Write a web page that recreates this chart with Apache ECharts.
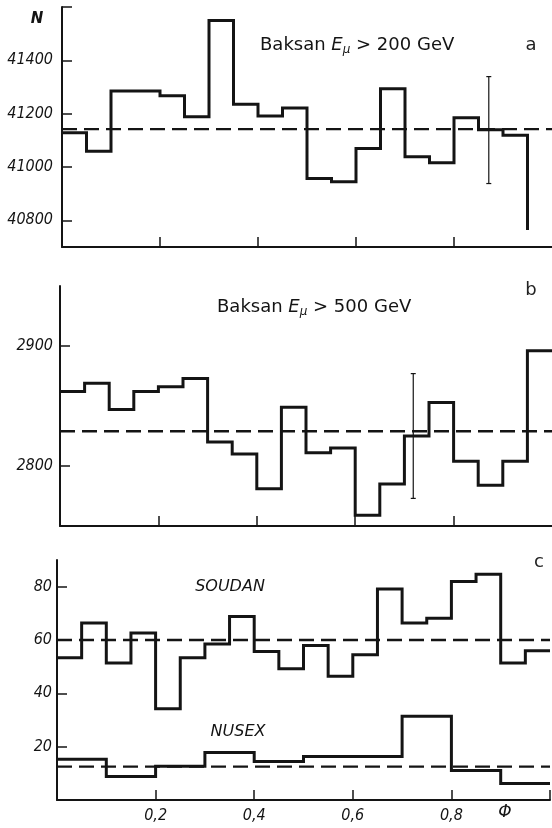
<!DOCTYPE html>
<html>
<head>
<meta charset="utf-8">
<script src="https://cdn.jsdelivr.net/npm/echarts@6/dist/echarts.min.js"></script>
<style>
  html, body { margin: 0; padding: 0; background: #fff; }
  #chart { width: 552px; height: 828px; }
</style>
</head>
<body>
<div id="chart"></div>
<script>
// ---- data ----
const binStarts20 = [0, 0.05, 0.1, 0.15, 0.2, 0.25, 0.3, 0.35, 0.4, 0.45, 0.5, 0.55, 0.6, 0.65, 0.7, 0.75, 0.8, 0.85, 0.9, 0.95];
const binStarts10 = [0, 0.1, 0.2, 0.3, 0.4, 0.5, 0.6, 0.7, 0.8, 0.9];
const binWidth20 = 0.05;
const binWidth10 = 0.1;

// panel a: Baksan E > 200 GeV (19 drawn bins, then a drop)
const baksan200 = [41128, 41059, 41285, 41285, 41267, 41188, 41549, 41235, 41191, 41221,
                   40957, 40945, 41069, 41293, 41038, 41016, 41185, 41140, 41119];
const baksan200Drop = 40764;
const baksan200Mean = 41142;
const baksan200Err = [0.871, 40938, 41339];

// panel b: Baksan E > 500 GeV
const baksan500 = [2862, 2869, 2847, 2862, 2866, 2873, 2820, 2810, 2781, 2849,
                   2811, 2815, 2759, 2785, 2825, 2853, 2804, 2784, 2804, 2896];
const baksan500Mean = 2829;
const baksan500Err = [0.718, 2773, 2877];

// panel c: SOUDAN and NUSEX
const soudan = [53.3, 66.4, 51.4, 62.6, 34.2, 53.3, 58.5, 68.8, 55.7, 49.2,
                57.9, 46.4, 54.5, 79.1, 66.4, 68.2, 81.9, 84.7, 51.4, 56.0];
const soudanMean = 60;
const nusex = [15.3, 8.8, 12.7, 17.8, 14.4, 16.3, 16.3, 31.4, 11.1, 6.2];
const nusexMean = 12.5;

// ticks
const yTicksA = [40800, 41000, 41200, 41400];
const yTicksAExtra = [41600];
const yTicksB = [2800, 2900];
const yTicksC = [20, 40, 60, 80];
const xTicks = [0.2, 0.4, 0.6, 0.8];
const xTicksC = [0.2, 0.4, 0.6, 0.8, 1.0];

// ---- helpers ----
function histPoints(starts, vals, width, drop) {
  const pts = starts.slice(0, vals.length).map((s, i) => [s, vals[i]]);
  const last = starts[vals.length - 1] + width;
  pts.push([last, vals[vals.length - 1]]);
  if (drop !== undefined) pts.push([last, drop]);
  return pts;
}

const INK = '#141414';
const labelFont = {
  color: INK, fontStyle: 'italic', fontFamily: 'DejaVu Sans Condensed, DejaVu Sans', fontSize: 16
};

function xAxisDef(gridIndex, showLabels, tickVals) {
  return {
    type: 'value', gridIndex, min: 0, max: 1,
    axisLine: { show: true, onZero: false, lineStyle: { color: INK, width: 2 } },
    axisTick: { show: true, inside: true, length: 10, customValues: tickVals, lineStyle: { color: INK, width: 1.5 } },
    axisLabel: Object.assign({ show: showLabels, margin: 8, customValues: xTicks,
      formatter: v => String(v).replace('.', ',') }, labelFont),
    splitLine: { show: false }
  };
}
function yAxisDef(gridIndex, min, max, ticks, extraTicks, margin) {
  return {
    type: 'value', gridIndex, min, max,
    axisLine: { show: true, onZero: false, lineStyle: { color: INK, width: 2 } },
    axisTick: { show: true, inside: true, length: 10, customValues: ticks.concat(extraTicks), lineStyle: { color: INK, width: 1.5 } },
    axisLabel: Object.assign({ show: true, margin, customValues: ticks, formatter: v => String(v) }, labelFont),
    splitLine: { show: false }
  };
}
function histSeries(idx, data) {
  return {
    type: 'line', xAxisIndex: idx, yAxisIndex: idx, step: 'end', data,
    symbol: 'none', silent: true, animation: false,
    lineStyle: { color: INK, width: 3, join: 'miter' }
  };
}
function meanSeries(idx, mean) {
  return {
    type: 'line', xAxisIndex: idx, yAxisIndex: idx, data: [[0, mean], [1, mean]],
    symbol: 'none', silent: true, animation: false,
    lineStyle: { color: INK, width: 2.4, type: [15, 7] }
  };
}
function errSeries(idx, err) {
  return {
    type: 'custom', xAxisIndex: idx, yAxisIndex: idx, data: [err], silent: true, animation: false,
    renderItem: (params, api) => {
      const x = api.value(0), lo = api.value(1), hi = api.value(2);
      const t = api.coord([x, hi]), b = api.coord([x, lo]);
      const st = { stroke: INK, lineWidth: 1.2 };
      return { type: 'group', children: [
        { type: 'line', shape: { x1: t[0], y1: t[1], x2: b[0], y2: b[1] }, style: st },
        { type: 'line', shape: { x1: t[0] - 2.5, y1: t[1], x2: t[0] + 2.5, y2: t[1] }, style: st },
        { type: 'line', shape: { x1: b[0] - 2.5, y1: b[1], x2: b[0] + 2.5, y2: b[1] }, style: st }
      ]};
    }
  };
}

const titleRich = {
  n: { fontFamily: 'DejaVu Sans', fontSize: 18, color: '#222' },
  e: { fontFamily: 'DejaVu Sans', fontSize: 18, fontStyle: 'italic', color: '#222' },
  s: { fontFamily: 'DejaVu Sans', fontSize: 12, fontStyle: 'italic', color: '#222', padding: [9, 0, 0, 0] }
};
function textEl(x, y, text, style) {
  return { type: 'text', x, y, silent: true, style: Object.assign({ text, fill: INK, verticalAlign: 'middle' }, style) };
}

const chart = echarts.init(document.getElementById('chart'), null, { renderer: 'canvas' });
chart.setOption({
  backgroundColor: '#fff',
  animation: false,
  grid: [
    { left: 62, right: 0, top: 7, bottom: 581, containLabel: false, outerBoundsMode: 'none' },
    { left: 60, right: 0, top: 286, bottom: 302, containLabel: false, outerBoundsMode: 'none' },
    { left: 57, right: 2, top: 560, bottom: 28, containLabel: false, outerBoundsMode: 'none' }
  ],
  xAxis: [
    xAxisDef(0, false, xTicks),
    xAxisDef(1, false, xTicks),
    xAxisDef(2, true, xTicksC)
  ],
  yAxis: [
    yAxisDef(0, 40700, 41600, yTicksA, yTicksAExtra, 9),
    yAxisDef(1, 2750, 2950, yTicksB, [], 7),
    yAxisDef(2, 0, 90, yTicksC, [], 5)
  ],
  series: [
    histSeries(0, histPoints(binStarts20, baksan200, binWidth20, baksan200Drop)),
    meanSeries(0, baksan200Mean),
    errSeries(0, baksan200Err),
    histSeries(1, histPoints(binStarts20, baksan500, binWidth20)),
    meanSeries(1, baksan500Mean),
    errSeries(1, baksan500Err),
    histSeries(2, histPoints(binStarts20, soudan, binWidth20)),
    meanSeries(2, soudanMean),
    histSeries(2, histPoints(binStarts10, nusex, binWidth10)),
    meanSeries(2, nusexMean)
  ],
  graphic: [
    textEl(37, 19, 'N', { fontFamily: 'DejaVu Sans', fontSize: 15, fontWeight: 'bold', fontStyle: 'italic', align: 'center' }),
    textEl(260, 45, '{n|Baksan }{e|E}{s|μ}{n| > 200 GeV}', { rich: titleRich, align: 'left' }),
    textEl(531, 45, 'a', { fontFamily: 'DejaVu Sans', fontSize: 18, fill: '#222', align: 'center' }),
    textEl(217, 307, '{n|Baksan }{e|E}{s|μ}{n| > 500 GeV}', { rich: titleRich, align: 'left' }),
    textEl(531, 290, 'b', { fontFamily: 'DejaVu Sans', fontSize: 18, fill: '#222', align: 'center' }),
    textEl(539, 562, 'c', { fontFamily: 'DejaVu Sans', fontSize: 18, fill: '#222', align: 'center' }),
    textEl(230, 587, 'SOUDAN', { fontFamily: 'DejaVu Sans', fontSize: 16, fontStyle: 'italic', align: 'center' }),
    textEl(238, 732, 'NUSEX', { fontFamily: 'DejaVu Sans', fontSize: 16, fontStyle: 'italic', align: 'center' }),
    textEl(505, 813, 'Φ', { fontFamily: 'DejaVu Sans', fontSize: 17, fontStyle: 'italic', align: 'center' })
  ]
});
</script>
</body>
</html>
